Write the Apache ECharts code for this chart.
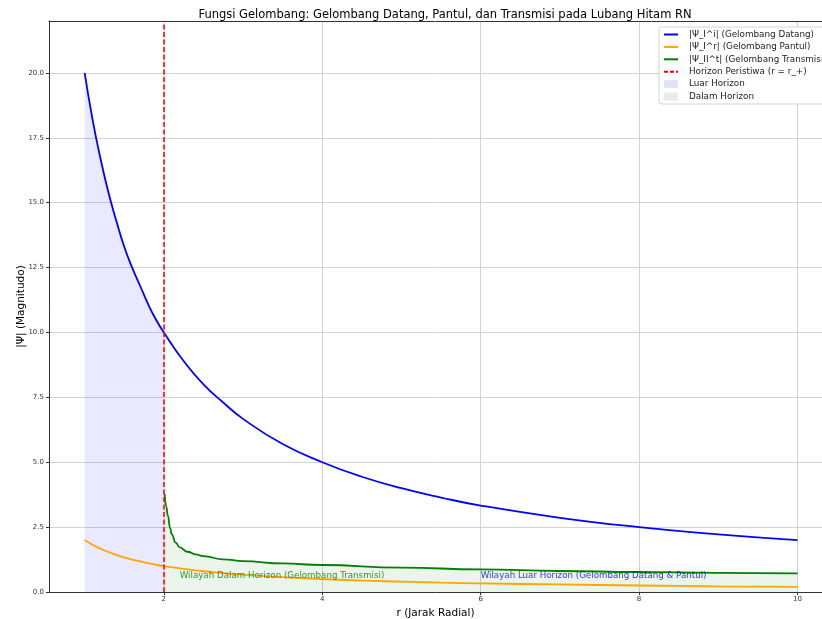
<!DOCTYPE html>
<html>
<head>
<meta charset="utf-8">
<script src="https://cdn.jsdelivr.net/npm/echarts@6/dist/echarts.min.js"></script>
<style>
  html, body { margin: 0; padding: 0; background: #fff; }
  #chart { width: 822px; height: 619px; }
</style>
</head>
<body>
<div id="chart"></div>
<script>
// radial positions for the incident / reflected waves
const rOuter = [1.0, 1.1, 1.2, 1.3, 1.4, 1.5, 1.6, 1.7, 1.8, 1.9, 2.0,
  2.25, 2.5, 2.75, 3.0, 3.5, 4.0, 4.5, 5.0, 5.5, 6.0, 7.0, 8.0, 9.0, 10.0];
const psiIncident = [20.0, 18.2, 16.7, 15.4, 14.3, 13.3, 12.5, 11.8, 11.1, 10.5, 10.0,
  8.9, 8.0, 7.3, 6.67, 5.7, 5.0, 4.44, 4.0, 3.64, 3.33, 2.86, 2.5, 2.22, 2.0];
const psiReflected = [2.0, 1.82, 1.67, 1.54, 1.43, 1.33, 1.25, 1.18, 1.11, 1.05, 1.0,
  0.89, 0.8, 0.73, 0.67, 0.57, 0.5, 0.44, 0.4, 0.36, 0.33, 0.29, 0.25, 0.22, 0.2];

// transmitted wave, inside the horizon
const rInner = [2.01, 2.03, 2.05, 2.08, 2.1, 2.15, 2.2, 2.3, 2.4, 2.5, 2.75, 3.0, 3.5, 4.0, 5.0, 6.0, 7.0, 8.0, 9.0, 10.0];
const psiTransmitted = [3.78, 3.3, 2.95, 2.45, 2.22, 1.9, 1.72, 1.55, 1.45, 1.38, 1.26, 1.19, 1.1, 1.04, 0.94, 0.87, 0.81, 0.77, 0.74, 0.72];

const horizonR = 2;
const xTicks = [2, 4, 6, 8, 10];
const yTicks = [0, 2.5, 5, 7.5, 10, 12.5, 15, 17.5, 20];

const notes = [
  { r: 2.2, v: 0.5, text: 'Wilayah Dalam Horizon (Gelombang Transmisi)', color: 'green' },
  { r: 6.0, v: 0.5, text: 'Wilayah Luar Horizon (Gelombang Datang & Pantul)', color: 'blue' }
];

const zip = (xs, ys) => xs.map((x, i) => [x, ys[i]]);
const outerIdx = rOuter.map((r, i) => i).filter(i => rOuter[i] <= horizonR);

const FONT = 'DejaVu Sans';
const LW = 1.8;
const chart = echarts.init(document.getElementById('chart'));

// legend entries for lines: hide the symbol dot, keep the line
const noDot = { opacity: 0 };

const option = {
  backgroundColor: '#fff',
  textStyle: { fontFamily: FONT },
  animation: false,
  title: {
    text: 'Fungsi Gelombang: Gelombang Datang, Pantul, dan Transmisi pada Lubang Hitam RN',
    left: 440,
    textAlign: 'center',
    top: 4,
    textStyle: { fontFamily: FONT, fontSize: 11.5, fontWeight: 'normal', color: '#000' }
  },
  // the figure is cropped on the right, so the plot runs off the edge
  grid: { left: 49, top: 21, right: 0, bottom: 27, outerBoundsMode: 'none' },
  legend: {
    orient: 'vertical',
    left: 659,
    top: 27,
    padding: [3, 5, 3, 4],
    itemWidth: 14,
    itemHeight: 8,
    itemGap: 3.4,
    backgroundColor: '#fff',
    borderColor: '#d5d5d5',
    borderWidth: 1,
    borderRadius: 3,
    textStyle: { fontFamily: FONT, fontSize: 8.8, color: '#222', padding: [0, 0, 0, 6] },
    data: [
      { name: '|Ψ_I^i| (Gelombang Datang)', itemStyle: noDot },
      { name: '|Ψ_I^r| (Gelombang Pantul)', itemStyle: noDot },
      { name: '|Ψ_II^t| (Gelombang Transmisi)', itemStyle: noDot },
      { name: 'Horizon Peristiwa (r = r_+)', itemStyle: noDot },
      { name: 'Luar Horizon', icon: 'rect' },
      { name: 'Dalam Horizon', icon: 'rect' }
    ]
  },
  xAxis: [
    {
      type: 'value',
      min: 0.55,
      max: 10.31,
      name: 'r (Jarak Radial)',
      nameLocation: 'middle',
      nameGap: 15,
      nameTextStyle: { fontFamily: FONT, fontSize: 10.5, color: '#000' },
      axisLine: { lineStyle: { color: '#333' } },
      axisTick: { customValues: xTicks, length: 3, lineStyle: { color: '#333' } },
      axisLabel: { customValues: xTicks, fontSize: 7, color: '#333', margin: 4 },
      splitLine: { show: true, lineStyle: { color: '#d3d3d3', width: 1 } }
    },
    {
      // top spine only
      type: 'value',
      position: 'top',
      min: 0.55,
      max: 10.31,
      axisLine: { show: true, onZero: false, lineStyle: { color: '#333' } },
      axisTick: { show: false },
      axisLabel: { show: false },
      splitLine: { show: false }
    }
  ],
  yAxis: {
    type: 'value',
    min: 0,
    max: 22,
    name: '|Ψ| (Magnitudo)',
    nameLocation: 'middle',
    nameGap: 22,
    nameMoveOverlap: false,
    nameTextStyle: { fontFamily: FONT, fontSize: 10.5, color: '#000' },
    axisLine: { show: true, lineStyle: { color: '#333' } },
    axisTick: { show: true, customValues: yTicks, length: 3, lineStyle: { color: '#333' } },
    axisLabel: { customValues: yTicks, fontSize: 7, color: '#333', margin: 5,
      formatter: v => v.toFixed(1) },
    splitLine: { show: true, lineStyle: { color: '#d3d3d3', width: 1 } }
  },
  series: [
    {
      name: 'Luar Horizon',
      type: 'line',
      data: outerIdx.map(i => [rOuter[i], psiIncident[i]]),
      smooth: true,
      symbol: 'none',
      lineStyle: { width: 0 },
      itemStyle: { color: 'rgba(0,0,255,0.12)' },
      areaStyle: { color: 'rgba(0,0,255,0.12)' },
      z: 1,
      silent: true
    },
    {
      name: 'Dalam Horizon',
      type: 'line',
      data: zip(rInner, psiTransmitted),
      smooth: true,
      smoothMonotone: 'x',
      symbol: 'none',
      lineStyle: { width: 0 },
      itemStyle: { color: 'rgba(0,128,0,0.11)' },
      areaStyle: { color: 'rgba(0,128,0,0.11)' },
      z: 1,
      silent: true
    },
    {
      name: '|Ψ_I^i| (Gelombang Datang)',
      type: 'line',
      data: zip(rOuter, psiIncident),
      smooth: true,
      symbol: 'none',
      itemStyle: { color: '#0000ff' },
      lineStyle: { color: '#0000ff', width: LW },
      z: 3
    },
    {
      name: '|Ψ_I^r| (Gelombang Pantul)',
      type: 'line',
      data: zip(rOuter, psiReflected),
      smooth: true,
      symbol: 'none',
      itemStyle: { color: '#ffa500' },
      lineStyle: { color: '#ffa500', width: LW },
      z: 3
    },
    {
      name: '|Ψ_II^t| (Gelombang Transmisi)',
      type: 'line',
      data: zip(rInner, psiTransmitted),
      smooth: true,
      smoothMonotone: 'x',
      symbol: 'none',
      itemStyle: { color: '#008000' },
      lineStyle: { color: '#008000', width: LW },
      z: 3
    },
    {
      name: 'Horizon Peristiwa (r = r_+)',
      type: 'line',
      data: [],
      symbol: 'none',
      itemStyle: { color: '#ff0000' },
      lineStyle: { color: '#ff0000', width: 1.5, type: [4, 2] },
      z: 4,
      markLine: {
        silent: true,
        symbol: 'none',
        label: { show: false },
        lineStyle: { color: '#ff0000', width: 1.5, type: [5, 2.5] },
        data: [{ xAxis: horizonR }]
      }
    },
    {
      name: 'notes',
      type: 'scatter',
      symbolSize: 0,
      silent: true,
      z: 5,
      data: notes.map(n => ({
        value: [n.r, n.v],
        label: {
          show: true,
          position: 'right',
          distance: 0,
          offset: [0, -3],
          formatter: n.text,
          color: n.color,
          fontFamily: FONT,
          fontSize: 8.7
        }
      }))
    }
  ]
};

chart.setOption(option);
</script>
</body>
</html>
